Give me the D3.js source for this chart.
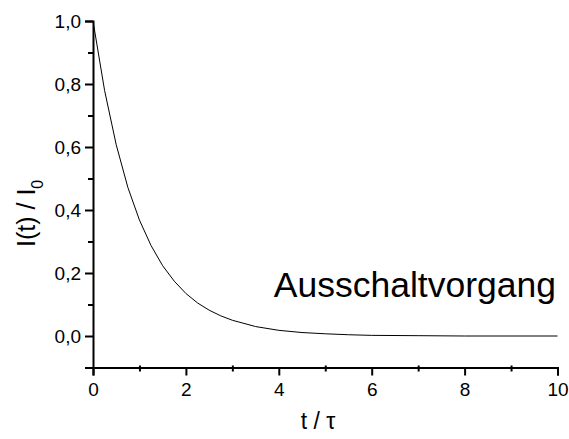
<!DOCTYPE html>
<html>
<head>
<meta charset="utf-8">
<script src="https://cdn.jsdelivr.net/npm/d3@7"></script>
<style>
  body { margin: 0; background: #fff; }
  svg { display: block; font-family: "Liberation Sans", Arial, sans-serif; }
</style>
</head>
<body>
<svg width="569" height="439"></svg>
<script>
// t / tau values
var tValues = [0, 0.25, 0.5, 0.75, 1, 1.25, 1.5, 1.75, 2, 2.25, 2.5, 2.75, 3, 3.5, 4, 4.5, 5, 5.5, 6, 7, 8, 9, 10];
// I(t) / I0 at those points
var iValues = [1.0, 0.779, 0.607, 0.472, 0.368, 0.287, 0.223, 0.174, 0.135, 0.105, 0.082, 0.064, 0.050, 0.030, 0.018, 0.011, 0.007, 0.004, 0.002, 0.001, 0.0, 0.0, 0.0];

var xMajor = [0, 2, 4, 6, 8, 10];
var xMinor = [1, 3, 5, 7, 9];
var yMajor = [0, 0.2, 0.4, 0.6, 0.8, 1.0];
var yMinor = [-0.1, 0.1, 0.3, 0.5, 0.7, 0.9];

var svg = d3.select("svg");

var x = d3.scaleLinear().domain([0, 10]).range([93, 557.5]);
var y = d3.scaleLinear().domain([-0.1, 1.0]).range([367.5, 21]);

var fmt = function (d) { return d3.format(".1f")(d).replace(".", ","); };

// y axis
var yAxis = svg.append("g")
    .attr("transform", "translate(" + x(0) + ",0)")
    .call(d3.axisLeft(y).tickValues(yMajor).tickFormat(fmt).tickSizeOuter(0).tickSize(8).tickPadding(4));
yAxis.select(".domain").attr("stroke-width", 2);
yAxis.selectAll(".tick line").attr("stroke-width", 2);
yAxis.selectAll(".tick text").attr("font-size", 19).attr("fill", "#000")
    .attr("font-family", "Liberation Sans, Arial, sans-serif");

var yMin = svg.append("g")
    .attr("transform", "translate(" + x(0) + ",0)")
    .call(d3.axisLeft(y).tickValues(yMinor).tickFormat("").tickSize(5).tickSizeOuter(0));
yMin.select(".domain").remove();
yMin.selectAll(".tick line").attr("stroke-width", 2);

// x axis
var xAxis = svg.append("g")
    .attr("transform", "translate(0," + y(-0.1) + ")")
    .call(d3.axisBottom(x).tickValues(xMajor).tickFormat(d3.format("d")).tickSizeOuter(0).tickSize(8).tickPadding(7));
xAxis.select(".domain").attr("stroke-width", 2);
xAxis.selectAll(".tick line").attr("stroke-width", 2);
xAxis.selectAll(".tick text").attr("font-size", 19).attr("fill", "#000")
    .attr("font-family", "Liberation Sans, Arial, sans-serif");

var xMin = svg.append("g")
    .attr("transform", "translate(0," + y(-0.1) + ")")
    .call(d3.axisBottom(x).tickValues(xMinor).tickFormat("").tickSize(4).tickSizeOuter(0));
xMin.select(".domain").remove();
xMin.selectAll(".tick line").attr("stroke-width", 2).attr("y1", -2);

// curve
var line = d3.line()
    .x(function (d, i) { return x(tValues[i]); })
    .y(function (d) { return y(d); });

svg.append("path")
    .datum(iValues)
    .attr("fill", "none")
    .attr("stroke", "#000")
    .attr("stroke-width", 1)
    .attr("d", line);

// labels
svg.append("text")
    .attr("x", 556).attr("y", 297)
    .attr("text-anchor", "end")
    .attr("font-size", 35.5)
    .text("Ausschaltvorgang");

svg.append("text")
    .attr("x", 318).attr("y", 429)
    .attr("text-anchor", "middle")
    .attr("font-size", 23)
    .text("t / τ");

var yl = svg.append("text")
    .attr("transform", "translate(35,247) rotate(-90)")
    .attr("text-anchor", "start")
    .attr("font-size", 25);
yl.append("tspan").text("I(t) / I");
yl.append("tspan").attr("font-size", 16).attr("dy", 8).text("0");
</script>
</body>
</html>
